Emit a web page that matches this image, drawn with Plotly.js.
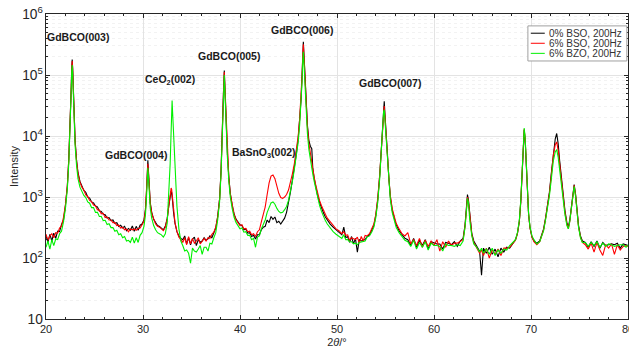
<!DOCTYPE html>
<html>
<head>
<meta charset="utf-8">
<script src="https://cdn.plot.ly/plotly-3.0.1.min.js"></script>
<style>html,body{margin:0;padding:0;background:#fff;}#chart{width:629px;height:354px;}</style>
</head>
<body>
<div id="chart"></div>
<script>
// 2theta (degrees), shared by all three scans
const twoTheta = [
  20.0,20.2,20.4,20.6,20.8,21.0,21.2,21.4,21.6,21.8,22.0,22.2,
  22.35,22.5,22.6,22.65,22.7,22.75,22.8,22.9,23.0,23.15,23.3,23.5,
  23.7,23.9,24.1,24.3,24.5,24.7,24.9,25.1,25.3,25.5,25.7,25.9,26.1,26.3,26.5,26.7,26.9,27.1,27.3,27.5,27.7,27.9,28.1,28.3,28.5,28.7,28.9,29.1,29.3,29.5,29.7,29.9,
  30.1,30.25,30.35,30.45,30.5,30.55,30.65,30.75,30.9,31.1,31.3,31.5,31.7,31.9,32.1,32.3,32.5,32.65,32.8,32.9,32.95,33.0,33.05,33.15,33.3,33.5,33.7,33.9,
  34.1,34.3,34.5,34.7,34.9,35.1,35.3,35.5,35.7,35.9,36.1,36.3,36.5,36.7,36.9,37.1,37.3,37.5,
  37.7,37.9,38.05,38.2,38.3,38.38,38.45,38.55,38.7,38.85,39.0,39.2,39.4,39.6,39.8,40.0,
  40.2,40.4,40.6,40.8,41.0,41.2,41.4,41.6,41.8,42.0,42.2,42.4,
  42.6,42.8,43.0,43.2,43.4,43.6,43.8,44.0,44.2,44.4,44.6,44.8,45.0,45.2,45.4,45.6,45.8,46.0,46.15,46.3,46.4,46.47,46.53,46.6,46.7,46.8,46.95,47.1,47.25,47.4,47.5,47.65,47.8,48.0,48.2,48.4,48.6,48.8,49.0,49.3,49.6,49.9,50.2,50.5,
  50.7,50.9,51.1,51.3,51.5,51.7,51.9,52.1,52.3,52.5,52.7,52.9,53.1,
  53.35,53.6,53.8,54.0,54.2,54.4,54.55,54.7,54.8,54.87,54.95,55.05,55.2,55.35,55.5,55.7,55.9,56.1,56.4,56.7,57.0,
  57.3,57.6,57.9,58.2,58.5,58.8,59.1,59.4,59.7,60.0,60.3,60.6,60.9,61.2,61.5,61.8,62.1,62.4,62.7,
  63.0,63.2,63.35,63.45,63.55,63.7,63.9,64.1,
  64.4,64.7,64.9,65.1,65.4,65.7,66.0,66.3,66.6,66.9,67.2,67.5,67.8,68.1,
  68.4,68.6,68.8,68.95,69.1,69.2,69.3,69.4,69.5,69.6,69.75,69.9,70.1,70.3,
  70.6,70.9,71.1,71.3,71.5,71.7,71.9,72.1,72.3,72.5,72.65,72.8,72.95,73.1,73.3,73.5,73.7,73.85,74.0,74.15,74.3,74.45,74.6,74.75,74.9,75.1,75.3,
  75.6,75.9,76.2,76.5,76.8,77.1,77.4,77.7,78.0,78.3,78.6,78.9,79.2,79.5,79.8,80.0
];

// 0% BSO, 200Hz
const bso0 = [
  230,180,245,190,255,210,275,270,355,415,720,1500,
  4200,16000,62000,125000,180000,130000,62000,19000,8500,4000,2500,1800,
  1500,1280,1190,1000,960,830,800,710,690,590,580,520,510,450,460,410,420,370,380,330,345,310,330,280,305,285,335,275,330,285,345,360,
  420,620,1100,2600,4000,2900,1300,800,560,430,380,340,330,310,290,330,450,700,1100,1250,1200,1050,850,560,370,270,230,210,
  200,230,170,215,165,205,220,160,200,180,190,215,195,205,230,215,265,310,
  480,950,2800,11000,55000,118000,62000,16000,5200,2100,1150,720,520,430,380,350,
  340,290,300,255,260,225,235,205,240,240,290,320,
  330,420,380,480,430,470,380,400,360,410,450,560,800,1200,1900,3000,5000,9000,17000,40000,100000,230000,350000,210000,85000,36000,15000,8500,6800,6200,3000,2000,1500,1050,820,650,550,470,420,360,320,290,260,240,
  320,215,225,180,225,170,210,125,200,190,195,200,225,
  240,290,340,500,900,2200,6000,18000,32000,37000,22000,10000,5000,2000,1000,600,430,350,280,240,210,
  200,160,210,150,195,160,200,140,185,175,170,170,140,180,175,165,185,155,190,
  210,350,700,1100,900,450,250,190,
  155,130,52,145,120,150,115,140,105,145,125,150,145,170,
  200,250,400,850,2800,7500,12500,8500,3300,1250,520,310,220,190,
  175,190,230,300,450,700,1200,2500,5500,9000,11000,7500,4000,2200,1100,600,380,320,420,700,1200,1600,1100,600,340,230,190,
  180,150,185,155,190,145,180,160,165,170,165,175,145,170,165,160
];

// 6% BSO, 200Hz
const bso6 = [
  245,195,230,250,215,260,255,310,335,460,740,1550,
  4100,15500,60000,120000,170000,125000,60000,18500,8200,3900,2400,1750,
  1450,1300,1080,1020,880,840,740,720,620,610,530,540,460,470,420,420,380,380,340,345,310,320,290,300,270,300,290,300,285,305,310,350,
  400,600,1050,2400,3500,2700,1250,780,540,420,360,330,320,300,280,320,440,690,1150,1400,1350,1150,900,580,380,270,220,200,
  180,215,165,225,170,210,175,190,215,170,185,210,190,215,210,245,265,320,
  470,930,2700,10500,52000,112000,60000,15500,5000,2050,1120,700,510,420,370,340,
  350,300,305,270,275,240,250,225,270,290,390,500,
  690,1100,1700,2200,2300,2000,1500,1150,980,950,1000,1100,1300,1700,2400,3500,5500,10000,19000,42000,100000,210000,320000,200000,80000,35000,14000,7500,5000,3600,2800,2100,1600,1150,880,720,600,520,450,390,340,300,280,250,
  270,235,240,195,215,205,200,220,175,225,190,235,230,
  250,300,360,520,950,2300,6000,17000,28000,31000,20000,9500,4800,2000,1050,640,460,370,300,250,230,
  260,170,200,160,210,150,195,155,190,160,200,130,185,150,190,160,175,175,185,
  200,330,650,1000,850,430,240,180,
  145,120,135,110,145,100,135,115,140,110,145,145,150,175,
  195,250,400,850,2900,7800,13000,8800,3400,1300,530,310,220,185,
  165,185,225,290,440,680,1150,2300,4800,7200,8000,5800,3300,1900,1000,560,360,300,400,680,1150,1550,1050,580,330,220,180,
  165,140,175,125,180,135,110,165,145,170,115,165,135,155,160,155
];

// 6% BZO, 200Hz
const bzo6 = [
  150,190,140,200,160,205,200,250,275,390,640,1350,
  3600,14000,55000,110000,146000,105000,50000,15000,7000,3300,2000,1450,
  1250,1060,980,830,790,670,670,560,560,480,480,410,415,355,365,315,315,275,285,240,250,215,225,190,195,180,220,175,215,180,235,260,
  330,500,900,2000,3000,2300,1050,650,450,340,290,260,250,240,220,250,380,1100,3500,12000,25000,38000,25000,10000,2500,700,300,190,
  160,130,135,120,82,145,130,125,140,160,115,150,150,130,175,170,215,260,
  420,850,2500,10000,48000,100000,52000,14000,4500,1800,1000,640,460,380,330,300,
  310,265,270,235,235,200,210,150,220,230,300,360,
  420,560,700,800,830,760,650,580,550,560,620,700,880,1200,1800,2800,4500,8000,15000,34000,80000,170000,240000,150000,60000,27000,11000,6000,4000,3000,2400,1800,1350,950,730,580,480,410,360,310,270,245,225,210,
  240,200,200,185,185,170,175,165,180,185,190,190,220,
  230,270,320,460,820,2000,5300,15000,25000,27000,17000,8000,4200,1800,900,550,400,320,260,220,195,
  185,155,195,140,180,150,185,135,175,160,160,155,130,170,160,160,155,165,160,
  190,320,640,950,800,400,230,170,
  150,125,145,120,140,115,145,110,135,120,140,135,160,180,
  200,260,420,900,3000,8000,13500,9000,3500,1300,550,320,230,200,
  170,185,220,280,420,650,1050,2000,3900,5500,6000,4500,2700,1600,900,520,340,300,400,680,1150,1500,1000,560,320,215,180,
  180,155,180,160,185,150,175,155,170,165,155,160,165,165,150,165
];

const seriesNames = ['0% BSO, 200Hz', '6% BSO, 200Hz', '6% BZO, 200Hz'];
const seriesColors = ['#000000', '#ff0000', '#00f000'];
const seriesValues = [bso0, bso6, bzo6];

// peak labels: [text, 2theta, log10(intensity)]
const peakLabels = [
  ['GdBCO(003)', 23.3, 5.62],
  ['CeO<sub>2</sub>(002)', 32.8, 4.92],
  ['GdBCO(005)', 38.87, 5.31],
  ['GdBCO(006)', 46.4, 5.74],
  ['GdBCO(004)', 29.28, 3.69],
  ['BaSnO<sub>3</sub>(002)', 42.47, 3.72],
  ['GdBCO(007)', 55.46, 4.87]
];

const traces = seriesValues.map((vals, i) => ({
  x: twoTheta, y: vals, type: 'scatter', mode: 'lines',
  name: seriesNames[i], line: {color: seriesColors[i], width: 1.1}, showlegend: false
}));

const axisColor = '#262626';
const fontFam = 'Liberation Sans, Arial, sans-serif';

// hand-drawn legend box (MATLAB style, compact)
const legBox = {x0: 0.828, x1: 0.998, y0: 0.846, y1: 0.961};
const legRows = [0.937, 0.904, 0.871];
const shapes = [{type: 'rect', xref: 'paper', yref: 'paper', x0: legBox.x0, x1: legBox.x1, y0: legBox.y0, y1: legBox.y1,
  line: {color: '#a0a0a0', width: 1}, fillcolor: '#ffffff', layer: 'above'}];
const legendText = [];
seriesNames.forEach((nm, i) => {
  shapes.push({type: 'line', xref: 'paper', yref: 'paper', x0: 0.833, x1: 0.857, y0: legRows[i], y1: legRows[i],
    line: {color: seriesColors[i], width: 1}, layer: 'above'});
  legendText.push({text: nm, xref: 'paper', yref: 'paper', x: 0.860, y: legRows[i], xanchor: 'left', yanchor: 'middle',
    showarrow: false, font: {family: fontFam, size: 10, color: '#333333'}});
});

const layout = {
  width: 629, height: 354,
  margin: {l: 46, r: 1, t: 14, b: 35},
  paper_bgcolor: '#fff', plot_bgcolor: '#fff',
  font: {family: fontFam, size: 11, color: axisColor},
  showlegend: false,
  xaxis: {
    range: [20, 80], tick0: 20, dtick: 10, automargin: false, ticklabeloverflow: 'allow',
    showline: true, linecolor: axisColor, linewidth: 1, mirror: 'ticks',
    ticks: 'inside', ticklen: 4, tickcolor: axisColor,
    showgrid: true, gridcolor: '#e3e3e3', zeroline: false,
    minor: {dtick: 2, ticks: 'inside', ticklen: 2, tickcolor: axisColor, showgrid: false},
    title: {text: '2<i>θ</i>/°', font: {size: 11, color: axisColor}, standoff: 4},
    tickfont: {size: 11, color: axisColor}
  },
  yaxis: {
    type: 'log', range: [1, 6], dtick: 1, exponentformat: 'power', automargin: false, ticklabeloverflow: 'allow',
    showline: true, linecolor: axisColor, linewidth: 1, mirror: 'ticks',
    ticks: 'inside', ticklen: 4, tickcolor: axisColor,
    showgrid: true, gridcolor: '#e3e3e3', zeroline: false,
    minor: {dtick: 'D1', ticks: 'inside', ticklen: 2, tickcolor: axisColor, showgrid: true, gridcolor: '#f2f2f2', griddash: 'dot'},
    title: {text: 'Intensity', font: {size: 11, color: axisColor}, standoff: 1},
    tickfont: {size: 11, color: axisColor}
  },
  shapes: shapes,
  annotations: peakLabels.map(p => ({
    text: '<b>' + p[0] + '</b>', x: p[1], y: p[2], xref: 'x', yref: 'y',
    showarrow: false, xanchor: 'center', yanchor: 'middle',
    font: {family: fontFam, size: 10.5, color: '#1a1a1a'}
  })).concat(legendText)
};

Plotly.newPlot('chart', traces, layout, {displayModeBar: false, staticPlot: true});
</script>
</body>
</html>
